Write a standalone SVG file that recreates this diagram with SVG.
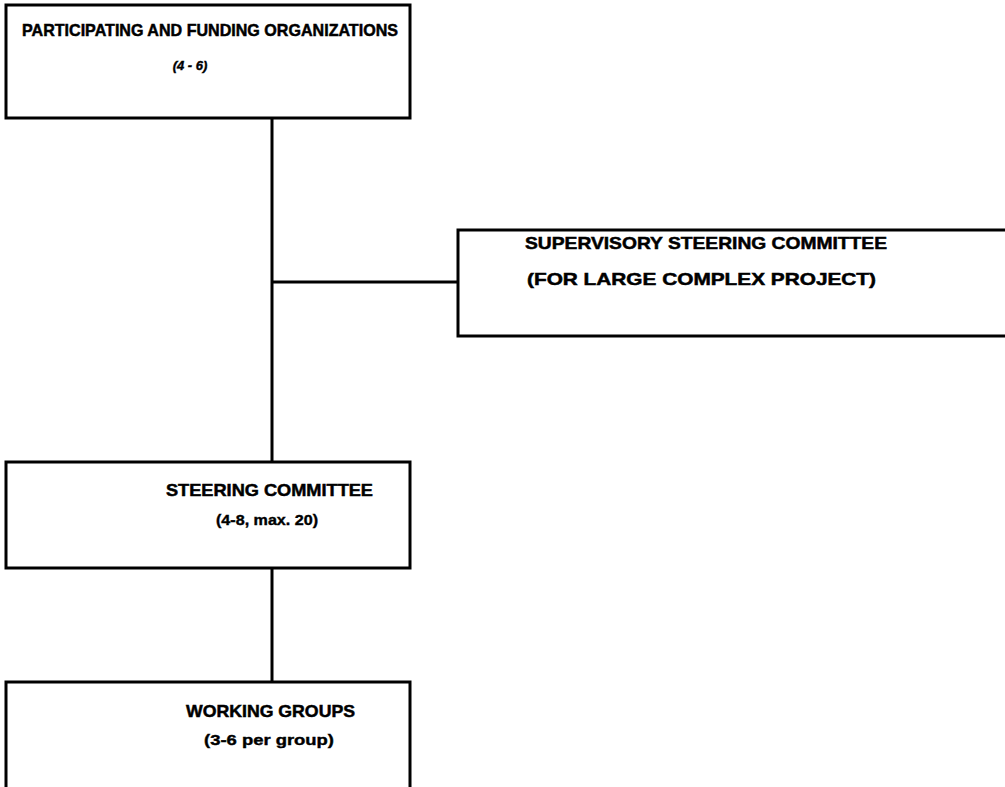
<svg xmlns="http://www.w3.org/2000/svg" width="1005" height="787" viewBox="0 0 1005 787">
<style>
  .box { fill: none; stroke: #000; stroke-width: 3; }
  .conn { fill: none; stroke: #000; stroke-width: 3; }
  .t { font-family: "Liberation Sans", Arial, sans-serif; font-weight: bold; font-size: 17px; fill: #000; stroke: #000; stroke-width: 0.5; }
  .s { font-family: "Liberation Sans", Arial, sans-serif; font-weight: bold; font-size: 15px; fill: #000; stroke: #000; stroke-width: 0.4; }
  .i { font-style: italic; font-size: 13px; }
</style>
<rect width="1005" height="787" fill="#fff"/>
<g id="connectors">
  <line class="conn" x1="272" y1="118" x2="272" y2="462"/>
  <line class="conn" x1="272" y1="282" x2="458" y2="282"/>
  <line class="conn" x1="272" y1="568" x2="272" y2="682"/>
</g>
<g id="participating">
  <rect class="box" x="6" y="5" width="404" height="113"/>
  <text class="t" x="22" y="36" textLength="376" lengthAdjust="spacingAndGlyphs">PARTICIPATING AND FUNDING ORGANIZATIONS</text>
  <text class="s i" x="190" y="70" text-anchor="middle">(4 - 6)</text>
</g>
<g id="supervisory">
  <path class="box" d="M1008,230 H458 V336 H1008"/>
  <text class="t" x="525" y="249" textLength="362" lengthAdjust="spacingAndGlyphs">SUPERVISORY STEERING COMMITTEE</text>
  <text class="t" x="527" y="285" textLength="349" lengthAdjust="spacingAndGlyphs">(FOR LARGE COMPLEX PROJECT)</text>
</g>
<g id="steering">
  <rect class="box" x="6" y="462" width="404" height="106"/>
  <text class="t" x="166" y="496" textLength="207" lengthAdjust="spacingAndGlyphs">STEERING COMMITTEE</text>
  <text class="s" x="216" y="525" textLength="102" lengthAdjust="spacingAndGlyphs">(4-8, max. 20)</text>
</g>
<g id="working">
  <path class="box" d="M6,792 V682 H410 V792"/>
  <text class="t" x="186" y="717" textLength="169" lengthAdjust="spacingAndGlyphs">WORKING GROUPS</text>
  <text class="s" x="204" y="745" textLength="130" lengthAdjust="spacingAndGlyphs">(3-6 per group)</text>
</g>
</svg>
